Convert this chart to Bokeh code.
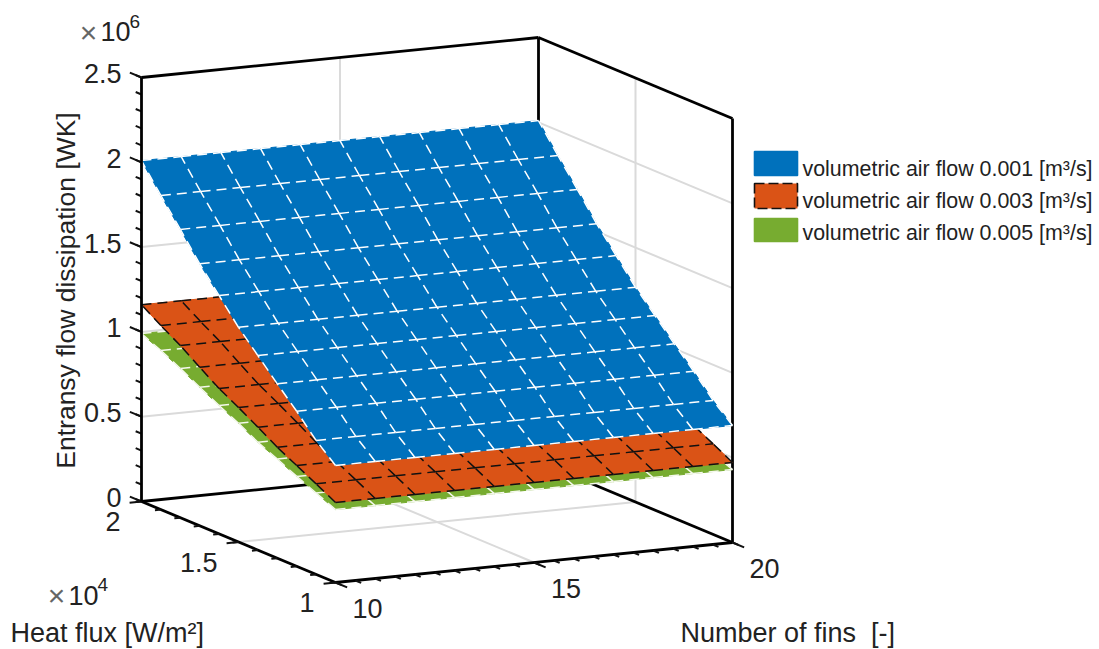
from math import pi
from bokeh.plotting import figure
from bokeh.models import Range1d
from bokeh.core.properties import value
from bokeh.embed import file_html
from bokeh.resources import INLINE

# ---- data -----------------------------------------------------------------
fins = [10, 11, 12, 13, 14, 15, 16, 17, 18, 19, 20]
flux = [1.0, 1.1, 1.2, 1.3, 1.4, 1.5, 1.6, 1.7, 1.8, 1.9, 2.0]          # x 1e4 W/m2
flow_001 = [0.69, 0.79, 0.914, 1.028, 1.147, 1.266, 1.405, 1.545, 1.70, 1.852, 2.01]
flow_003 = [0.472, 0.534, 0.594, 0.654, 0.725, 0.793, 0.857, 0.935, 1.015, 1.085, 1.16]
flow_005 = [0.43, 0.48, 0.53, 0.585, 0.636, 0.70, 0.757, 0.817, 0.88, 0.938, 0.99]

z_major = [0, 0.5, 1, 1.5, 2, 2.5]
z_labels = ["0", "0.5", "1", "1.5", "2", "2.5"]
z_minor = [i / 10 for i in range(26)]
flux_major = [1, 1.5, 2]
flux_labels = ["1", "1.5", "2"]
flux_minor = [1 + i / 10 for i in range(11)]
fins_major = [10, 15, 20]
fins_labels = ["10", "15", "20"]
fins_minor = [10 + i / 2 for i in range(21)]

series_labels = ["volumetric air flow 0.001 [m³/s]",
                 "volumetric air flow 0.003 [m³/s]",
                 "volumetric air flow 0.005 [m³/s]"]
BLUE, ORANGE, GREEN = "#0071BC", "#DA5316", "#77AC30"
INK, GREY = "#222222", "#DADADA"
FONT = value("Liberation Sans")


# ---- 3-D view: the projection of (fins, flux, z) onto the page --------------
def proj(f, q, z=0.0):
    return (335 + 397 * (f - 10) / 10 - 194 * (q - 1),
            582 - 40 * (f - 10) / 10 - 81 * (q - 1) - 169.6 * z)


def seg(a, b):
    pa, pb = proj(*a), proj(*b)
    return [pa[0], pb[0]], [pa[1], pb[1]]


def lines(p, pairs, **kw):
    xs, ys = [], []
    for a, b in pairs:
        x, y = seg(a, b)
        xs.append(x)
        ys.append(y)
    p.multi_line(xs, ys, **kw)


p = figure(width=1099, height=649, x_range=Range1d(0, 1099), y_range=Range1d(649, 0),
           output_backend="svg", toolbar_location=None,
           x_axis_location=None, y_axis_location=None, min_border=0,
           outline_line_color=None)
p.grid.visible = False
p.background_fill_color = "white"

# ---- box and grid behind the surfaces ---------------------------------------
grid_pairs = []
for z in z_major[1:-1]:
    grid_pairs.append(((10, 2, z), (20, 2, z)))
    grid_pairs.append(((20, 2, z), (20, 1, z)))
grid_pairs += [((15, 2, 0), (15, 2, 2.5)), ((20, 1.5, 0), (20, 1.5, 2.5)),
               ((15, 2, 0), (15, 1, 0)), ((10, 1.5, 0), (20, 1.5, 0))]
lines(p, grid_pairs, line_color=GREY, line_width=2)

box_pairs = [((10, 2, 0), (20, 2, 0)), ((20, 2, 0), (20, 1, 0)), ((20, 2, 0), (20, 2, 2.5)),
             ((10, 2, 2.5), (20, 2, 2.5)), ((20, 2, 2.5), (20, 1, 2.5)),
             ((20, 1, 0), (20, 1, 2.5)),
             ((10, 1, 0), (10, 2, 0)), ((10, 1, 0), (20, 1, 0))]
lines(p, box_pairs, line_color="#000000", line_width=2.8)

# ---- ticks ------------------------------------------------------------------
lines(p, [((10, 2, z), (10, 2.06, z)) for z in z_major], line_color="#111111", line_width=2)
lines(p, [((10, 2, z), (10, 2.03, z)) for z in z_minor], line_color="#111111", line_width=2)
lines(p, [((10, q, 0), (9.7, q, 0)) for q in flux_major], line_color="#111111", line_width=2)
lines(p, [((10, q, 0), (9.85, q, 0)) for q in flux_minor], line_color="#111111", line_width=2)
lines(p, [((f, 1, 0), (f, 0.94, 0)) for f in fins_major], line_color="#111111", line_width=2)
lines(p, [((f, 1, 0), (f, 0.97, 0)) for f in fins_minor], line_color="#111111", line_width=2)


# ---- surfaces ---------------------------------------------------------------
def surface(p, values, colour, edge):
    xs, ys = [], []
    for i in range(len(flux) - 1):
        for j in range(len(fins) - 1):
            corners = [(fins[j], flux[i], values[i]), (fins[j + 1], flux[i], values[i]),
                       (fins[j + 1], flux[i + 1], values[i + 1]), (fins[j], flux[i + 1], values[i + 1])]
            pts = [proj(*c) for c in corners]
            xs.append([c[0] for c in pts])
            ys.append([c[1] for c in pts])
    p.patches(xs, ys, fill_color=colour, line_color=colour, line_width=1)
    pairs = []
    for i in range(len(flux)):
        for j in range(len(fins) - 1):
            pairs.append(((fins[j], flux[i], values[i]), (fins[j + 1], flux[i], values[i])))
    for j in range(len(fins)):
        for i in range(len(flux) - 1):
            pairs.append(((fins[j], flux[i], values[i]), (fins[j], flux[i + 1], values[i + 1])))
    lines(p, pairs, line_color=edge, line_width=1.5, line_dash="10 6")


surface(p, flow_005, GREEN, "#F4F8EC")
surface(p, flow_003, ORANGE, "#111111")
surface(p, flow_001, BLUE, "#FFFFFF")

# the z axis stays in front of the surfaces' left edges
lines(p, [((10, 2, 0), (10, 2, 2.5))], line_color="#000000", line_width=2.8)


# ---- tick labels ------------------------------------------------------------
def labels(p, pts, texts, size="27px", **kw):
    p.text([c[0] for c in pts], [c[1] for c in pts], text=texts, text_font=FONT,
           text_font_size=size, text_color=INK, text_baseline="middle", **kw)


labels(p, [proj(10, 2, z) for z in z_major], z_labels, text_align="right", x_offset=-20, y_offset=-4)
labels(p, [proj(10, q, 0) for q in flux_major], flux_labels, text_align="right", x_offset=-21, y_offset=20)
labels(p, [proj(f, 1, 0) for f in fins_major], fins_labels, text_align="center", x_offset=32, y_offset=26)

# ---- axis titles and exponents ----------------------------------------------
labels(p, [(65, 290)], ["Entransy flow dissipation [WK]"], size="26.5px", text_align="center", angle=pi / 2)
labels(p, [(10, 632)], ["Heat flux [W/m²]"], text_align="left")
labels(p, [(680, 632)], ["Number of fins \u00a0[-]"], text_align="left")

p.text([88], [32], text=["×"], text_font=FONT, text_font_size="30px", text_color="#666666",
       text_align="center", text_baseline="middle")
labels(p, [(100, 31)], ["10"], text_align="left")
labels(p, [(129, 21)], ["6"], size="19px", text_align="left")
p.text([56], [595], text=["×"], text_font=FONT, text_font_size="30px", text_color="#666666",
       text_align="center", text_baseline="middle")
labels(p, [(68, 595)], ["10"], text_align="left")
labels(p, [(97, 584)], ["4"], size="19px", text_align="left")

# ---- legend -----------------------------------------------------------------
for label, colour, edge, top, bottom, cy in zip(
        series_labels, [BLUE, ORANGE, GREEN], [BLUE, "#111111", GREEN],
        [151, 183, 218], [175, 208, 241], [168, 200, 232]):
    p.quad(left=[754], right=[797], top=[top], bottom=[bottom], fill_color=colour,
           line_color=edge, line_width=1.6, line_dash="10 4" if edge == "#111111" else "solid")
    labels(p, [(802, cy)], [label], size="21.4px", text_align="left")

open("out.html", "w").write(file_html(p, INLINE))
